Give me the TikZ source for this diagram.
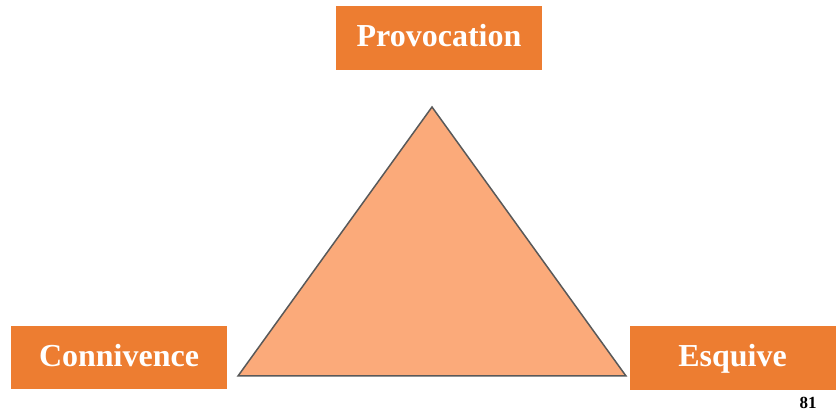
\documentclass[tikz,border=0pt]{standalone}
\usepackage{fontspec}
\setmainfont{Liberation Serif}
\usepackage{tikz}
\usetikzlibrary{positioning,calc}
\usepackage{xcolor}
\definecolor{boxorange}{HTML}{ED7D31}
\definecolor{trifill}{HTML}{FBAA7A}
\definecolor{triline}{HTML}{595959}

\begin{document}
\begin{tikzpicture}[x=1pt, y=1pt]
    \tikzstyle{box} = [rectangle, fill=boxorange, text=white, minimum width=206pt, minimum height=64pt, inner sep=0pt, text height=24pt, text depth=6pt, font=\fontsize{32}{36}\selectfont\bfseries]
    \tikzstyle{tri} = [fill=trifill, draw=triline, line width=1.5pt, line join=miter]

    \useasboundingbox (0,0) rectangle (836,412);

    \node[box] (provocation) at (439,374) {Provocation};
    \node[box, minimum width=216pt, minimum height=63pt] (connivence) at (119,54.5) {Connivence};
    \node[box] (esquive) at (732.5,54) {Esquive};

    % triangle corners
    \coordinate (apex) at (432,305);
    \coordinate (left) at (238,36);
    \coordinate (right) at (626,36);
    \draw[tri] (apex) -- (left) -- (right) -- cycle;

    % page number
    \node[font=\fontsize{17}{20}\selectfont\bfseries] (pagenum) at (808,9) {81};
\end{tikzpicture}
\end{document}
